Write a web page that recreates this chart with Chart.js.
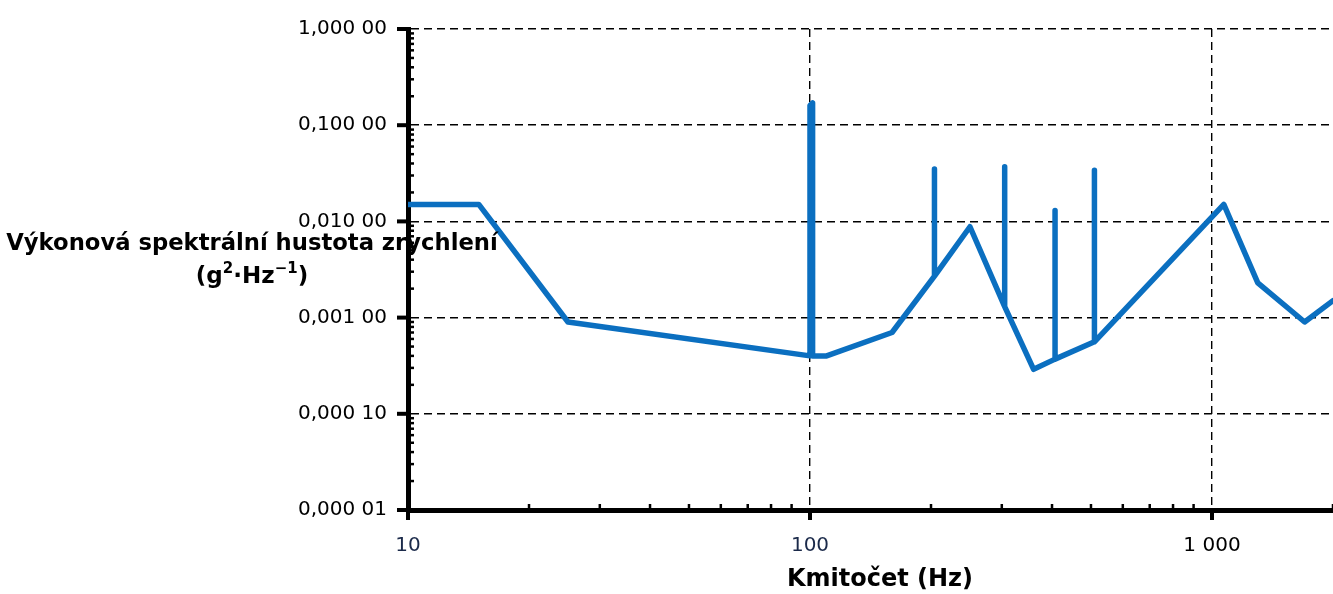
<!DOCTYPE html>
<html>
<head>
<meta charset="utf-8">
<script src="https://cdn.jsdelivr.net/npm/chart.js@4/dist/chart.umd.min.js"></script>
<style>
  html, body { margin: 0; padding: 0; background: #fff; }
  #wrap { width: 1333px; height: 594px; position: relative; }
</style>
</head>
<body>
<div id="wrap"><canvas id="psd"></canvas></div>
<script>
// Acceleration power spectral density profile (frequency in Hz, PSD in g²/Hz).
// Repeated frequencies draw the narrow-band peaks as vertical strokes.
const frequencies = [
  10, 15, 25, 100, 100, 101.5, 101.5, 110, 160,
  204, 204, 204, 250,
  305, 305, 305, 360,
  407, 407, 407,
  510, 510, 510,
  1070, 1300, 1700, 2000
];
const psdValues = [
  0.015, 0.015, 0.0009, 0.0004, 0.16, 0.17, 0.0004, 0.0004, 0.0007,
  0.0027, 0.035, 0.0027, 0.0088,
  0.0013, 0.037, 0.0013, 0.00029,
  0.00037, 0.013, 0.00037,
  0.00056, 0.034, 0.00056,
  0.015, 0.0023, 0.0009, 0.0015
];

// Axis ranges and labelled ticks
const xRange = [10, 2000];
const yRange = [0.00001, 1];
const xTickValues = [10, 100, 1000];
const yTickValues = [0.00001, 0.0001, 0.001, 0.01, 0.1, 1];

const xTitle = 'Kmitočet (Hz)';
const yTitleLine = 'Výkonová spektrální hustota zrychlení';

const points = frequencies.map((f, i) => ({ x: f, y: psdValues[i] }));

function formatPsd(v) {
  const s = v.toFixed(5).split('.');
  return s[0] + ',' + s[1].slice(0, 3) + ' ' + s[1].slice(3);
}
function formatHz(v) {
  return v >= 1000 ? String(v).replace(/\B(?=(\d{3})+(?!\d))/g, ' ') : String(v);
}

const LABEL_FONT = 'DejaVu Sans';

// Thick axis tick marks (major outside, minor inside) and the axis titles
const axisDecor = {
  id: 'axisDecor',
  afterDraw(chart) {
    const ctx = chart.ctx;
    const xs = chart.scales.x, ys = chart.scales.y;
    const area = chart.chartArea;
    ctx.save();
    ctx.strokeStyle = '#000';
    ctx.lineCap = 'butt';

    // y axis: majors to the left, minors to the right
    yTickValues.forEach(v => {
      const py = ys.getPixelForValue(v);
      ctx.lineWidth = 4;
      ctx.beginPath(); ctx.moveTo(area.left - 11, py); ctx.lineTo(area.left, py); ctx.stroke();
      if (v < yRange[1]) {
        ctx.lineWidth = 2.5;
        for (let k = 2; k <= 9; k++) {
          const pm = ys.getPixelForValue(v * k);
          ctx.beginPath(); ctx.moveTo(area.left, pm); ctx.lineTo(area.left + 6, pm); ctx.stroke();
        }
      }
    });

    // x axis: majors below, minors above
    xTickValues.forEach(v => {
      const px = xs.getPixelForValue(v);
      ctx.lineWidth = 4;
      ctx.beginPath(); ctx.moveTo(px, area.bottom); ctx.lineTo(px, area.bottom + 10); ctx.stroke();
      ctx.lineWidth = 2.5;
      for (let k = 2; k <= 9; k++) {
        const f = v * k;
        if (f > xRange[1]) break;
        const pm = xs.getPixelForValue(f);
        ctx.beginPath(); ctx.moveTo(pm, area.bottom - 6); ctx.lineTo(pm, area.bottom); ctx.stroke();
      }
    });

    // axis titles
    ctx.fillStyle = '#000';
    ctx.textBaseline = 'middle';
    ctx.textAlign = 'center';
    ctx.font = 'bold 22.7px "' + LABEL_FONT + '"';
    ctx.fillText(yTitleLine, 252, 244);

    // second line: (g²·Hz⁻¹) with raised exponents
    const big = 'bold 23px "' + LABEL_FONT + '"';
    const small = 'bold 15px "' + LABEL_FONT + '"';
    const parts = [
      { t: '(g', f: big, dy: 0 },
      { t: '2', f: small, dy: -8 },
      { t: '·Hz', f: big, dy: 0 },
      { t: '\u22121', f: small, dy: -8 },
      { t: ')', f: big, dy: 0 }
    ];
    let total = 0;
    parts.forEach(p => { ctx.font = p.f; p.w = ctx.measureText(p.t).width; total += p.w; });
    let cx = 252 - total / 2;
    ctx.textAlign = 'left';
    parts.forEach(p => { ctx.font = p.f; ctx.fillText(p.t, cx, 277 + p.dy); cx += p.w; });

    ctx.textAlign = 'center';
    ctx.font = 'bold 24px "' + LABEL_FONT + '"';
    ctx.fillText(xTitle, 880, 580);
    ctx.restore();
  }
};

new Chart(document.getElementById('psd'), {
  type: 'scatter',
  data: {
    datasets: [{
      data: points,
      showLine: true,
      borderColor: '#0B6FC0',
      backgroundColor: '#0B6FC0',
      borderWidth: 5.5,
      borderJoinStyle: 'round',
      borderCapStyle: 'round',
      pointRadius: 0,
      pointHoverRadius: 0,
      tension: 0
    }]
  },
  options: {
    responsive: true,
    maintainAspectRatio: false,
    animation: false,
    devicePixelRatio: 1,
    layout: { padding: { top: 29, right: 0, bottom: 0, left: 0 } },
    plugins: { legend: { display: false }, tooltip: { enabled: false } },
    scales: {
      x: {
        type: 'logarithmic',
        min: xRange[0],
        max: xRange[1],
        afterBuildTicks(scale) { scale.ticks = xTickValues.map(v => ({ value: v, major: true })); },
        afterFit(scale) { scale.height = 84; },
        ticks: {
          autoSkip: false,
          maxRotation: 0,
          padding: 24,
          font: { family: LABEL_FONT, size: 20 },
          color: c => (c.tick && c.tick.value < 1000 ? '#1b2a4a' : '#000'),
          callback: v => formatHz(v)
        },
        grid: { color: '#000', lineWidth: 1.4, drawTicks: false },
        border: { display: true, color: '#000', width: 5, dash: [8, 5] }
      },
      y: {
        type: 'logarithmic',
        min: yRange[0],
        max: yRange[1],
        afterBuildTicks(scale) { scale.ticks = yTickValues.map(v => ({ value: v, major: true })); },
        afterFit(scale) { scale.width = 408; },
        ticks: {
          autoSkip: false,
          padding: 9,
          font: { family: LABEL_FONT, size: 20 },
          color: '#000',
          callback: v => formatPsd(v)
        },
        grid: {
          color: '#000', lineWidth: 1.4,
          drawTicks: true, tickLength: 12, tickColor: 'rgba(0,0,0,0)', tickWidth: 0
        },
        border: { display: true, color: '#000', width: 5, dash: [8, 5] }
      }
    }
  },
  plugins: [axisDecor]
});
</script>
</body>
</html>
